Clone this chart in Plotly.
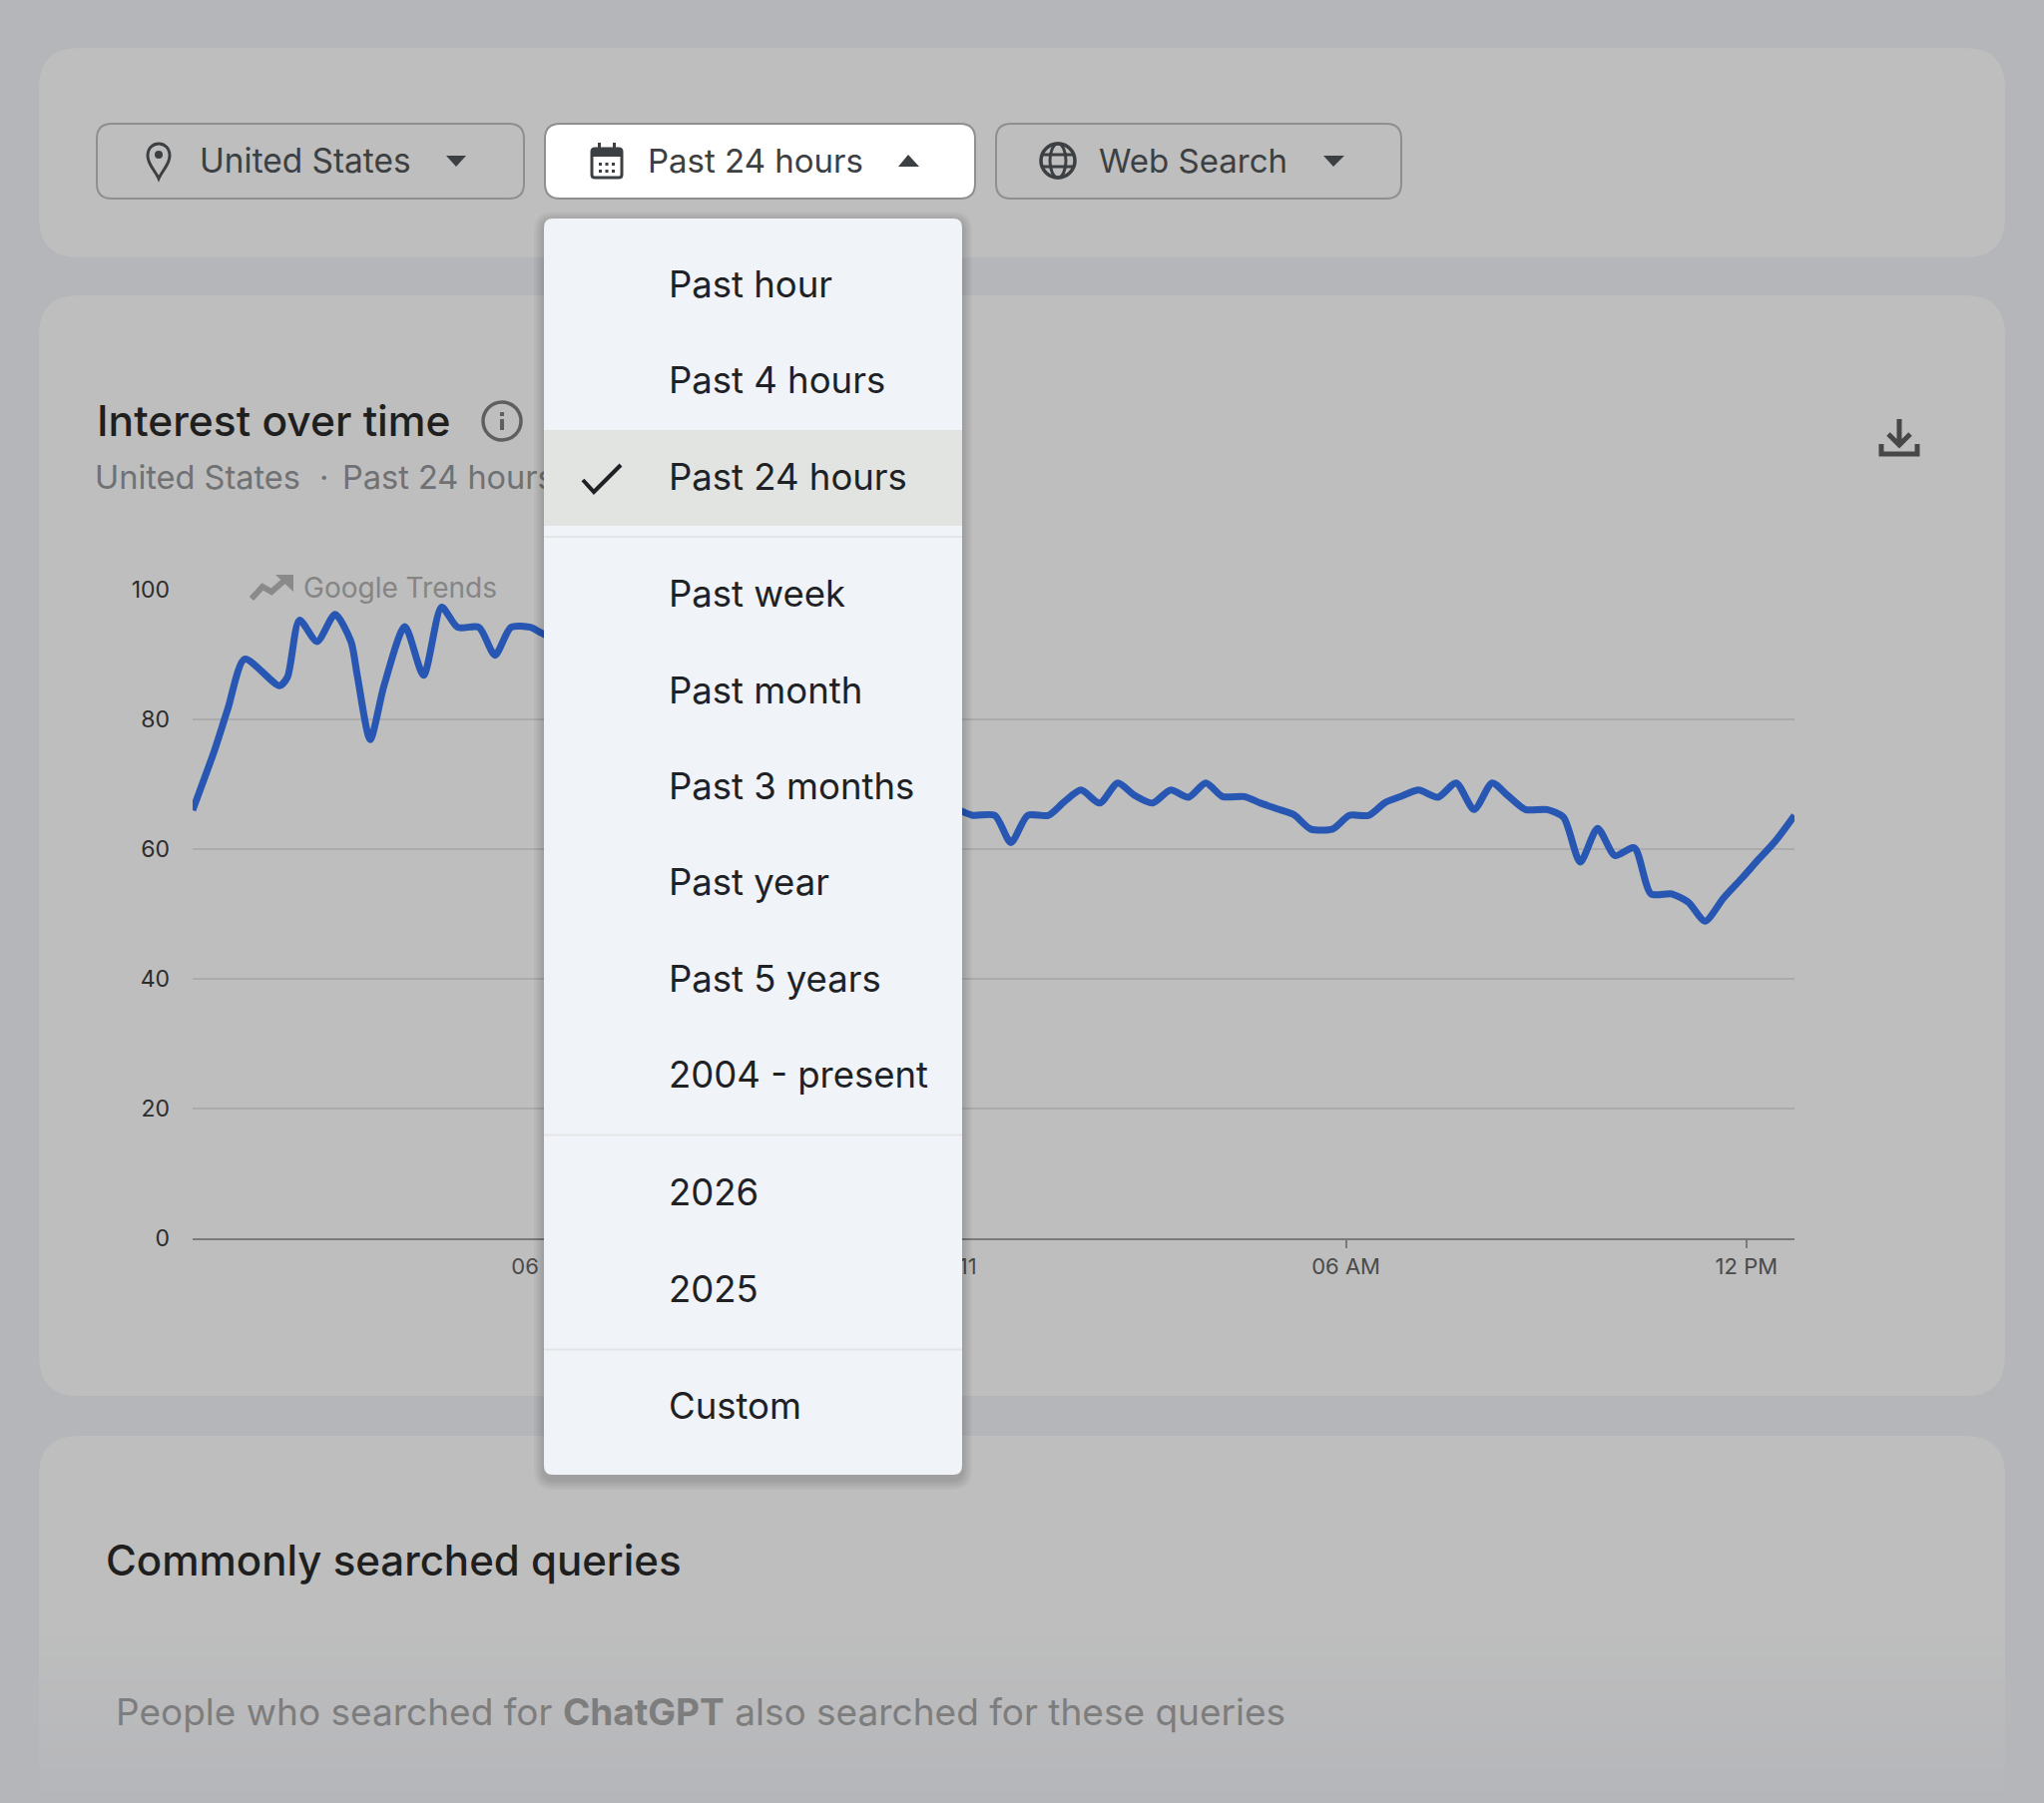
import plotly.graph_objects as go

# hours since the start of the 24 h window, and interest (0-100)
# the stretch behind the open menu can't be read so it just joins up
hours = [0, 0.33, 0.53, 0.78, 1.30, 1.42, 1.60, 1.865, 2.134, 2.373, 2.467, 2.66, 2.87, 3.18, 3.46, 3.73, 3.97,
         4.29, 4.53, 4.77, 5.06, 5.25,
         11.53, 11.69, 12.02, 12.26, 12.51, 12.82, 13.06, 13.31, 13.59, 13.86, 14.11, 14.38, 14.65, 14.92,
         15.18, 15.43, 15.76, 16.00, 16.25, 16.50, 16.75, 17.08, 17.33, 17.62, 17.87, 18.12, 18.37, 18.66,
         18.93, 19.20, 19.47, 19.69, 19.97, 20.29, 20.54, 20.79, 21.05, 21.31, 21.60, 21.85, 22.16, 22.41,
         22.66, 22.94, 23.21, 23.46, 23.71, 24.0]
interest = [66, 75.3, 81.7, 89.3, 85.2, 86.5, 95.3, 92, 96.2, 92, 86.8, 76.9, 85.3, 94.3, 86.8, 97.3, 94.2,
            94.2, 89.9, 94.2, 94.2, 93.2,
            65.8, 65.2, 65.2, 61, 65.2, 65.2, 67.3, 69.1, 67.1, 70.2, 68.3, 67.1, 69.1, 68,
            70.2, 68.1, 68.1, 67.1, 66.2, 65.3, 63.1, 63.1, 65.2, 65.2, 67.2, 68.2, 69.1, 68,
            70.2, 66.1, 70.2, 68.4, 66.1, 66.1, 64.9, 58, 63.2, 59, 60.2, 53.1, 53.1, 51.8,
            48.9, 52.5, 55.5, 58.4, 61.2, 65.2]

tick_hours = [5.28, 11.28, 17.28, 23.28]
tick_labels = ["06 PM", "Feb 11", "06 AM", "12 PM"]
y_ticks = [0, 20, 40, 60, 80, 100]

filter_labels = ["United States", "Past 24 hours", "Web Search"]
menu_labels = ["Past hour", "Past 4 hours", "Past 24 hours", "Past week", "Past month", "Past 3 months",
               "Past year", "Past 5 years", "2004 - present", "2026", "2025", "Custom"]
menu_y = [285, 381, 478, 595, 692, 788, 884, 981, 1077, 1195, 1292, 1409]

FONT = "Inter"
BG = "#b5b6ba"
CARD = "#bebebe"
INK = "#3c4043"


def rrect(x0, y0, x1, y1, r):
    # rounded rectangle, page pixels
    return (f"M{x0+r},{y0} L{x1-r},{y0} Q{x1},{y0} {x1},{y0+r} L{x1},{y1-r} Q{x1},{y1} {x1-r},{y1} "
            f"L{x0+r},{y1} Q{x0},{y1} {x0},{y1-r} L{x0},{y0+r} Q{x0},{y0} {x0+r},{y0} Z")


shapes = []


def add_path(path, fill="rgba(0,0,0,0)", line=None, width=0, layer="above"):
    shapes.append(dict(type="path", xref="x", yref="y", path=path, fillcolor=fill, layer=layer,
                       line=dict(color=line or "rgba(0,0,0,0)", width=width)))


def add_circle(cx, cy, rx, ry=None, fill="rgba(0,0,0,0)", line=None, width=0):
    ry = rx if ry is None else ry
    shapes.append(dict(type="circle", xref="x", yref="y", x0=cx-rx, x1=cx+rx, y0=cy-ry, y1=cy+ry,
                       fillcolor=fill, layer="above", line=dict(color=line or "rgba(0,0,0,0)", width=width)))


def add_rect(x0, y0, x1, y1, fill, layer="above"):
    shapes.append(dict(type="rect", xref="x", yref="y", x0=x0, x1=x1, y0=y0, y1=y1, fillcolor=fill,
                       layer=layer, line=dict(width=0)))


# cards
add_path(rrect(39, 48, 2009, 258, 40), fill=CARD, layer="below")
add_path(rrect(39, 296, 2009, 1399, 40), fill=CARD, layer="below")
add_path(rrect(39, 1439, 2009, 1900, 40), fill=CARD, layer="below")
# bottom card fades out into the page
steps = 24
for i in range(steps):
    t = (i + 1) / steps
    c = (round(190 - 9 * t), round(190 - 8 * t), round(190 - 4 * t))
    add_rect(39, 1630 + i * 7.5, 2009, 1630 + (i + 1) * 7.5 + 1, f"rgb{c}", layer="below")

# gap in the 100 gridline for the watermark
add_rect(241, 578, 511, 602, CARD)

# filter buttons
add_path(rrect(97, 124, 525, 199, 15), line="#8f8f8f", width=2)
add_path(rrect(546, 124, 977, 199, 15), fill="#ffffff", line="#8f8f8f", width=2)
add_path(rrect(998, 124, 1404, 199, 15), line="#8f8f8f", width=2)

# carets
add_path("M447,156 L467,156 L457,167 Z", fill=INK)
add_path("M900,167 L921,167 L910,155 Z", fill=INK)
add_path("M1326,156 L1347,156 L1336,167 Z", fill=INK)

# pin icon
add_path("M159,179 C155,170 148,165 148,156 C148,140 170,140 170,156 C170,165 163,170 159,179 Z", line=INK, width=3)
add_circle(159, 155, 4, fill=INK)

# calendar icon
add_path(rrect(593, 149, 623, 178, 3), line=INK, width=3)
add_rect(593, 149, 623, 157, INK)
add_rect(599, 143, 602, 150, INK)
add_rect(614, 143, 617, 150, INK)
for dx in [600, 606.5, 613]:
    for dy in [163, 170]:
        add_rect(dx, dy, dx + 3, dy + 3, INK)

# globe icon
add_circle(1060, 161, 17, line=INK, width=3.5)
add_circle(1060, 161, 8, 17, line=INK, width=3)
add_path("M1043,155 L1077,155", line=INK, width=3)
add_path("M1043,167 L1077,167", line=INK, width=3)

# info icon
add_circle(503, 422, 19, line="#5f5f5f", width=3.5)
add_rect(501, 420, 505, 431, "#5f5f5f")
add_rect(501, 413, 505, 417, "#5f5f5f")

# download icon
add_path("M1903,420 L1903,445 M1892,435 L1903,446 L1914,435", line="#474747", width=5)
add_path("M1885,445 L1885,455 L1921,455 L1921,445", line="#474747", width=5)

# watermark arrow
add_path("M252,600 L263,588 L272,593 L287,580", line="#8a8a8a", width=6)
add_path("M276,576 L294,576 L294,593 Z", fill="#8a8a8a")

# open menu, shadow first
for g in [10, 8, 6, 4, 2]:
    add_path(rrect(545 - g, 219 - g + 3, 964 + g, 1478 + g + 5, 10 + g), fill="rgba(0,0,0,0.03)")
add_path(rrect(545, 219, 964, 1478, 9), fill="#f0f3f8")
add_rect(545, 431, 964, 527, "#e2e4e1")
for y in [538, 1137.5, 1352.5]:
    add_rect(545, y - 1, 964, y + 1, "#e3e5e6")
add_path("M584,481 L595,493 L622,466", line="#202124", width=4)

annotations = []


def add_text(x, y, text, size, color, weight=400, anchor="left"):
    annotations.append(dict(x=x, y=y, xref="x", yref="y", text=text, showarrow=False, xanchor=anchor,
                            yanchor="middle", font=dict(family=FONT, size=size, color=color, weight=weight)))


add_text(198, 161, filter_labels[0], 33.4, INK)
add_text(647, 161, filter_labels[1], 33, INK)
add_text(1099, 161, filter_labels[2], 33, INK)
add_text(95, 421, "Interest over time", 42.5, "#1f1f1f", weight=500)
add_text(302, 589, "Google Trends", 28, "#858585")
for label, y in zip(menu_labels, menu_y):
    add_text(668, y, label, 36.5, "#202124")
add_text(104, 1563, "Commonly searched queries", 42, "#1f1f1f", weight=500)
add_text(114, 1715, "People who searched for <b>ChatGPT</b> also searched for these queries", 37, "#7d7d7d")

fig = go.Figure()

# subtitle is a trace so the menu covers the end of it
fig.add_trace(go.Scatter(x=[95, 320, 343], y=[482, 482, 482], mode="text",
                         text=["United States", "·", "Past 24 hours"], textposition="middle right",
                         textfont=dict(family=FONT, size=32.5, color="#6f7175"), hoverinfo="skip",
                         xaxis="x", yaxis="y", showlegend=False))

fig.add_trace(go.Scatter(x=hours, y=interest, mode="lines", cliponaxis=False,
                         line=dict(color="#2756b3", width=7, shape="spline", smoothing=0.7),
                         xaxis="x2", yaxis="y2", showlegend=False))

fig.update_layout(
    width=2048, height=1807,
    margin=dict(l=0, r=0, t=0, b=0, autoexpand=False),
    paper_bgcolor=BG, plot_bgcolor="rgba(0,0,0,0)",
    font=dict(family=FONT),
    shapes=shapes, annotations=annotations,
    # page pixels, used for the cards, icons and text
    xaxis=dict(domain=[0, 1], range=[0, 2048], visible=False, fixedrange=True),
    yaxis=dict(domain=[0, 1], range=[1807, 0], visible=False, fixedrange=True),
    # the chart
    xaxis2=dict(domain=[193 / 2048, 1798 / 2048], range=[0, 24], anchor="y2", showgrid=False,
                showline=True, linecolor="#7a7a7a", linewidth=2, zeroline=False,
                tickmode="array", tickvals=tick_hours, ticktext=tick_labels,
                ticks="outside", ticklen=8, tickcolor="#7a7a7a", tickwidth=2,
                tickfont=dict(family=FONT, size=22, color="#4a4a4a")),
    yaxis2=dict(domain=[(1807 - 1241) / 1807, (1807 - 591) / 1807], range=[0, 100], anchor="x2",
                showgrid=True, gridcolor="#ababab", gridwidth=2, zeroline=False, showline=False,
                tickmode="array", tickvals=y_ticks, ticklabelstandoff=22,
                tickfont=dict(family=FONT, size=23, color="#2c2c2c")),
)

fig.write_html("out.html", config={"displayModeBar": False},
               post_script="document.body.style.margin='0';document.body.style.overflow='hidden';")
